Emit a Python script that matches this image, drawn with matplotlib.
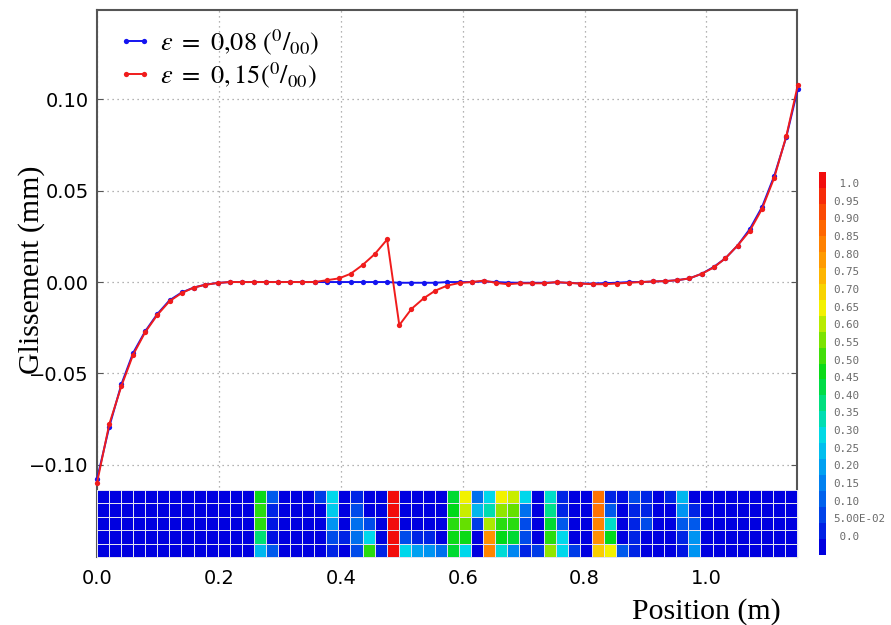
import numpy as np
import matplotlib
matplotlib.use("Agg")
import matplotlib.pyplot as plt
from matplotlib.colors import LinearSegmentedColormap, Normalize
from matplotlib.cm import ScalarMappable

plt.rcParams['mathtext.fontset'] = 'stix'

# ---------------- data ----------------
positions = [0.000, 0.020, 0.040, 0.059, 0.079, 0.099, 0.119, 0.139, 0.159, 0.178,
             0.198, 0.218, 0.238, 0.258, 0.278, 0.297, 0.317, 0.337, 0.357, 0.377,
             0.397, 0.416, 0.436, 0.456, 0.476, 0.496, 0.516, 0.536, 0.555, 0.575,
             0.595, 0.615, 0.635, 0.655, 0.674, 0.694, 0.714, 0.734, 0.754, 0.774,
             0.793, 0.813, 0.833, 0.853, 0.873, 0.893, 0.912, 0.932, 0.952, 0.972,
             0.992, 1.012, 1.031, 1.051, 1.071, 1.091, 1.111, 1.131, 1.150]

slip_eps008 = [-0.108, -0.0794, -0.056, -0.039, -0.027, -0.0175, -0.010, -0.0057, -0.003, -0.0014,
               -0.0005, 0.0, 0.0, 0.0, 0.0, 0.0, 0.0, 0.0, 0.0, 0.0,
               0.0, 0.0, 0.0, 0.0, 0.0, -0.0004, -0.0004, -0.0004, -0.0004, 0.0,
               0.0, 0.0, 0.0003, 0.0, -0.0003, -0.0004, -0.0004, -0.0004, -0.0002, -0.0004,
               -0.0008, -0.0008, -0.0006, -0.0004, 0.0, 0.0, 0.0003, 0.0005, 0.001, 0.002,
               0.0045, 0.0083, 0.013, 0.020, 0.029, 0.041, 0.058, 0.0795, 0.106]

slip_eps015 = [-0.110, -0.078, -0.057, -0.040, -0.0275, -0.018, -0.0105, -0.006, -0.003, -0.0015,
               -0.0005, 0.0, 0.0, 0.0, 0.0, 0.0, 0.0, 0.0, 0.0, 0.001,
               0.002, 0.0045, 0.0094, 0.0154, 0.0233, -0.0236, -0.0147, -0.0089, -0.0047, -0.0019,
               -0.0005, 0.0, 0.0008, -0.0005, -0.0012, -0.0007, -0.0007, -0.0007, 0.0, -0.0005,
               -0.0008, -0.0012, -0.0012, -0.0008, -0.0004, 0.0, 0.0003, 0.0005, 0.001, 0.002,
               0.0045, 0.008, 0.013, 0.020, 0.028, 0.040, 0.057, 0.080, 0.108]

series_labels = [r'$\varepsilon\ =\ 0{,}08\ (^{0}/_{00})$', r'$\varepsilon\ =\ 0,15(^{0}/_{00})$']
series_colors = ['#1414f0', '#f01c1c']

# damage map (5 rows top->bottom, 58 cells along the position)
damage_row1 = [0, 0, 0, 0, 0, 0, 0, 0, 0, 0, 0, 0, 0, 0.48, 0.12, 0, 0, 0, 0.08, 0.30,
               0, 0.05, 0, 0, 1.0, 0, 0, 0, 0, 0.45, 0.65, 0.15, 0.30, 0.65, 0.62, 0.30, 0, 0.33, 0.05, 0,
               0, 0.85, 0.05, 0.02, 0.10, 0.05, 0, 0.05, 0.25, 0, 0, 0, 0, 0, 0, 0, 0, 0]
damage_row2 = [0, 0, 0, 0, 0, 0, 0, 0, 0, 0, 0, 0, 0, 0.50, 0.05, 0, 0, 0, 0, 0.28,
               0, 0.10, 0, 0, 1.0, 0, 0, 0, 0, 0.47, 0.62, 0.25, 0.35, 0.58, 0.55, 0.15, 0, 0.38, 0.05, 0,
               0, 0.85, 0.12, 0, 0.05, 0.05, 0, 0, 0.20, 0.05, 0, 0, 0, 0, 0, 0, 0, 0]
damage_row3 = [0, 0, 0, 0, 0, 0, 0, 0, 0, 0, 0, 0, 0, 0.50, 0.03, 0, 0, 0, 0, 0.20,
               0, 0.15, 0.10, 0, 1.0, 0, 0, 0, 0, 0.50, 0.55, 0.08, 0.60, 0.50, 0.50, 0.10, 0, 0.45, 0.12, 0,
               0, 0.82, 0.33, 0, 0.05, 0.10, 0, 0, 0.12, 0.12, 0, 0, 0, 0, 0, 0, 0, 0]
damage_row4 = [0, 0, 0, 0, 0, 0, 0, 0, 0, 0, 0, 0, 0, 0.40, 0.02, 0, 0, 0, 0, 0.10,
               0.05, 0.15, 0.30, 0, 1.0, 0.10, 0.05, 0.05, 0, 0.48, 0.48, 0, 0.80, 0.47, 0.45, 0.10, 0, 0.50, 0.30, 0,
               0, 0.80, 0.47, 0, 0.05, 0, 0, 0, 0.05, 0.20, 0, 0, 0, 0, 0, 0, 0, 0]
damage_row5 = [0, 0, 0, 0, 0, 0, 0, 0, 0, 0, 0, 0, 0, 0.25, 0.12, 0, 0, 0, 0, 0.05,
               0, 0.10, 0.50, 0.05, 1.0, 0.30, 0.22, 0.20, 0.15, 0.45, 0.30, 0, 0.82, 0.32, 0.18, 0.05, 0.08, 0.58, 0.30, 0.08,
               0, 0.70, 0.65, 0.12, 0.05, 0, 0, 0, 0.03, 0.20, 0, 0, 0, 0, 0, 0, 0, 0]

cbar_labels = [' 1.0', '0.95', '0.90', '0.85', '0.80', '0.75', '0.70', '0.65', '0.60', '0.55',
               '0.50', '0.45', '0.40', '0.35', '0.30', '0.25', '0.20', '0.15', '0.10', '5.00E-02', ' 0.0']

xticks = [0.0, 0.2, 0.4, 0.6, 0.8, 1.0]
yticks = [-0.10, -0.05, 0.00, 0.05, 0.10]

# ---------------- colormap ----------------
anchors = [(0.00, (0.00, 0.00, 0.88)),
           (0.10, (0.00, 0.30, 0.92)),
           (0.20, (0.00, 0.58, 0.95)),
           (0.30, (0.00, 0.85, 0.92)),
           (0.38, (0.00, 0.88, 0.55)),
           (0.47, (0.00, 0.85, 0.10)),
           (0.55, (0.40, 0.88, 0.00)),
           (0.65, (0.95, 0.95, 0.00)),
           (0.75, (1.00, 0.68, 0.00)),
           (0.88, (1.00, 0.38, 0.00)),
           (1.00, (0.95, 0.05, 0.05))]
cmap = LinearSegmentedColormap.from_list('damage', anchors)

# ---------------- figure ----------------
W, H = 891, 625
fig = plt.figure(figsize=(W / 100, H / 100), dpi=100)
ax = fig.add_axes([97 / W, (H - 557) / H, 700 / W, 547 / H])

ax.set_xlim(0, 1.1485)
ax.set_ylim(-0.1506, 0.149)

ax.grid(True, color='#9a9a9a', linestyle=(0, (1, 3)), linewidth=0.9, zorder=0)
ax.set_axisbelow(True)

for yv, lab, col in zip([slip_eps008, slip_eps015], series_labels, series_colors):
    ax.plot(positions, yv, color=col, lw=1.4, marker='o', markersize=3.8,
            markeredgewidth=0, label=lab, zorder=4, clip_on=False)

# damage strip
dmg = np.array([damage_row5, damage_row4, damage_row3, damage_row2, damage_row1])
xe = np.linspace(0, 1.1485, dmg.shape[1] + 1)
ye = np.linspace(-0.1506, -0.1139, dmg.shape[0] + 1)
ax.pcolormesh(xe, ye, dmg, cmap=cmap, vmin=0, vmax=1, edgecolors='#e2e2f0',
              linewidth=0.6, zorder=5, clip_on=False)

ax.set_xticks(xticks)
ax.set_yticks(yticks)
ax.set_xticklabels([f'{v:.1f}' for v in xticks])
ax.set_yticklabels([f'{v:.2f}'.replace('-', '\u2212') for v in yticks])
ax.tick_params(axis='both', direction='in', length=4, labelsize=14, color='#555555',
               top=True, right=True)
ax.tick_params(axis='x', pad=9, bottom=False, top=False)
ax.tick_params(axis='y', pad=6)

for side in ['left', 'top', 'right']:
    ax.spines[side].set_color('#555555')
    ax.spines[side].set_linewidth(1.5)
ax.spines['bottom'].set_visible(False)

ax.set_ylabel('Glissement (mm)', family='Liberation Serif', fontsize=21.5)
ax.yaxis.set_label_coords(-0.074, 0.525)
ax.set_xlabel('Position (m)', family='Liberation Serif', fontsize=21.5)
ax.xaxis.set_label_coords(0.87, -0.075)

leg = ax.legend(loc='upper left', bbox_to_anchor=(0.005, 1.0), frameon=False, numpoints=2,
                fontsize=19, handlelength=1.3, handletextpad=0.3, labelspacing=0.1,
                borderaxespad=0.25)

# colour legend bar
cax = fig.add_axes([819 / W, (H - 555) / H, 7 / W, 383 / H])
sm = ScalarMappable(norm=Normalize(0, 1), cmap=cmap.resampled(24))
cb = fig.colorbar(sm, cax=cax)
cb.set_ticks([])
cb.outline.set_visible(False)
n = len(cbar_labels)
for i, lab in enumerate(cbar_labels):
    ypx = 184 + i * (537 - 184) / (n - 1)
    fig.text(833 / W, 1 - ypx / H, lab, family='DejaVu Sans Mono', fontsize=7.8,
             color='#6a6a6a', ha='left', va='center')

fig.savefig('out.png', dpi=100)
